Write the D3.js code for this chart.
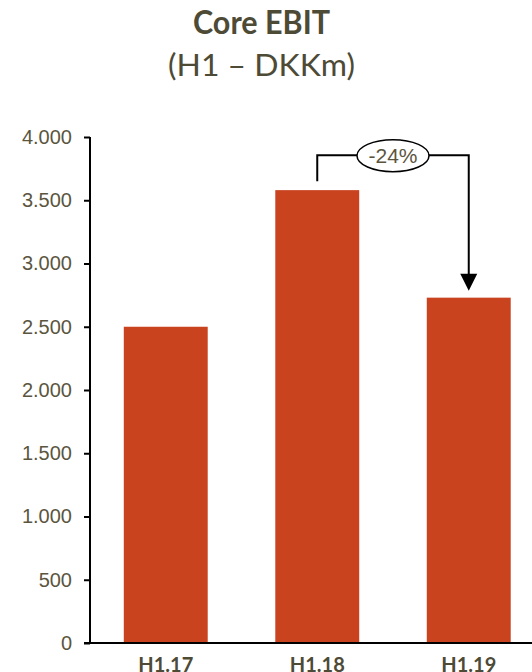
<!DOCTYPE html>
<html><head><meta charset="utf-8">
<script src="https://cdn.jsdelivr.net/npm/d3@7"></script>
<style>
html,body{margin:0;padding:0;background:#fff;}
svg{display:block;}
</style></head>
<body>
<svg id="chart" width="532" height="672"></svg>
<script>
const categories = ["H1.17", "H1.18", "H1.19"];
const values = [2500, 3580, 2730];
const yTicks = [0, 500, 1000, 1500, 2000, 2500, 3000, 3500, 4000];
const changeLabel = "-24%";
const titleLines = ["Core EBIT", "(H1 – DKKm)"];

const svg = d3.select("#chart");
const textColor = "#5b553e";
const titleColor = "#4d4a36";
const barColor = "#c9431f";

const y = d3.scaleLinear().domain([0, 4000]).range([643, 137]);
const x = d3.scaleBand().domain(categories).range([90, 544.5]).paddingInner(0.446).paddingOuter(0.223);

const loc = d3.formatLocale({decimal: ",", thousands: ".", grouping: [3], currency: ["", ""]});
const fmt = loc.format(",");

// title
svg.append("text").attr("x", 261.5).attr("y", 34).attr("text-anchor", "middle")
  .attr("font-family", "Lato, 'Open Sans', sans-serif").attr("font-weight", "bold")
  .attr("font-size", 33).attr("fill", titleColor)
  .attr("textLength", 137).attr("lengthAdjust", "spacingAndGlyphs")
  .text(titleLines[0]);
svg.append("text").attr("x", 261.5).attr("y", 76).attr("text-anchor", "middle")
  .attr("font-family", "Lato, 'Open Sans', sans-serif")
  .attr("font-size", 31).attr("fill", titleColor)
  .attr("textLength", 187).attr("lengthAdjust", "spacingAndGlyphs")
  .text(titleLines[1]);

// bars
svg.append("g").selectAll("rect").data(values).join("rect")
  .attr("x", (d, i) => x(categories[i]))
  .attr("width", x.bandwidth())
  .attr("y", d => y(d))
  .attr("height", d => y(0) - y(d))
  .attr("fill", barColor);

// y axis
const yAxis = svg.append("g").attr("transform", "translate(90,0)")
  .call(d3.axisLeft(y).tickValues(yTicks).tickFormat(fmt).tickSize(6).tickPadding(12));
yAxis.select(".domain").attr("stroke", "#000").attr("stroke-width", 2).attr("d", `M0,${y(4000)}V${y(0)}`);
yAxis.selectAll(".tick line").attr("stroke", "#000").attr("stroke-width", 2);
yAxis.selectAll(".tick text").attr("font-family", "'Liberation Sans', Arial, sans-serif")
  .attr("font-size", 20).attr("fill", textColor);

// x axis
const xAxis = svg.append("g").attr("transform", `translate(0,${y(0)})`)
  .call(d3.axisBottom(x).tickSize(0).tickPadding(15));
xAxis.select(".domain").attr("stroke", "#000").attr("stroke-width", 2).attr("d", "M84,0H532");
xAxis.selectAll(".tick text").attr("font-family", "Lato, 'Open Sans', sans-serif")
  .attr("font-size", 20).attr("font-weight", "bold").attr("fill", titleColor).attr("dy", "0.71em");

// change bracket
const x1 = x(categories[1]) + x.bandwidth() / 2;
const x2 = x(categories[2]) + x.bandwidth() / 2;
const topY = y(values[1]) - 35;
const tipY = y(values[2]) - 7;
svg.append("path")
  .attr("d", `M${x1},${y(values[1]) - 9}V${topY}H${x2}V${tipY - 16}`)
  .attr("fill", "none").attr("stroke", "#000").attr("stroke-width", 2);
svg.append("path")
  .attr("d", `M${x2 - 8.5},${tipY - 17}L${x2 + 8.5},${tipY - 17}L${x2},${tipY}Z`)
  .attr("fill", "#000");
const cx = (x1 + x2) / 2;
svg.append("ellipse").attr("cx", cx).attr("cy", topY + 0.5).attr("rx", 36).attr("ry", 16)
  .attr("fill", "#fff").attr("stroke", "#000").attr("stroke-width", 1.5);
svg.append("text").attr("x", cx).attr("y", topY + 8).attr("text-anchor", "middle")
  .attr("font-family", "'Liberation Sans', Arial, sans-serif").attr("font-size", 21)
  .attr("fill", textColor).text(changeLabel);
</script>
</body></html>
